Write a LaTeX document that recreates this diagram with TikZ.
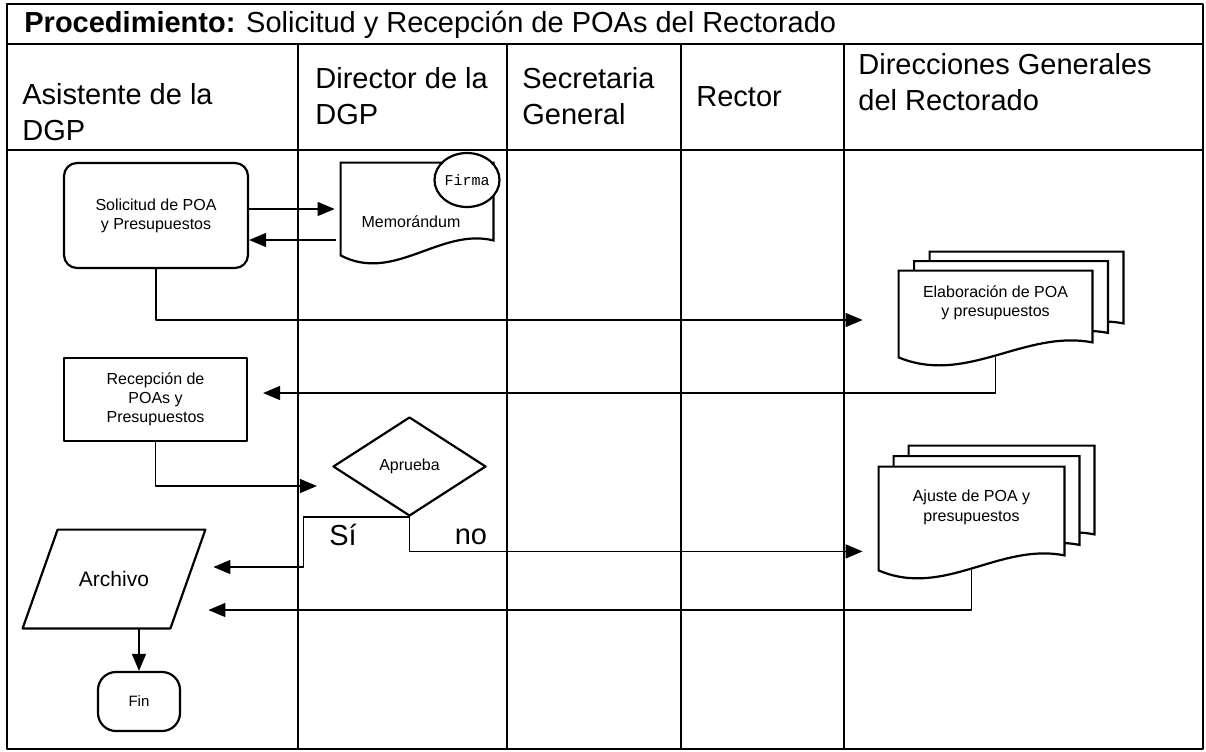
\documentclass[tikz,border=0pt]{standalone}
\usepackage{fontspec}
\setmainfont{Liberation Sans}
\newfontfamily\monofirma{Liberation Mono}
\usetikzlibrary{shapes.geometric,arrows.meta,calc,backgrounds}

\newcommand{\docoutline}[2][0,0]{%
  \draw[docline] ($(#2.south west)+(#1)$) -- ($(#2.north west)+(#1)$)
    -- ($(#2.north east)+(#1)$) -- ($(#2.south east)+(#1)+(0,-15)$)
    .. controls ($(#2.south west)!0.65!(#2.south east)+(#1)+(0,-28)$)
    and ($(#2.south west)!0.35!(#2.south east)+(#1)+(0,28)$)
    .. ($(#2.south west)+(#1)$) -- cycle;}

\begin{document}
\begin{tikzpicture}
[x=0.5pt, y=-0.5pt, line join=round,
lane/.style={line width=0.8pt},
head/.style={anchor=north west, inner sep=0pt, align=left, font=\fontsize{14.5}{18.25}\selectfont},
task/.style={draw, line width=1.1pt, inner sep=0pt, align=center, font=\fontsize{8}{9.5}\selectfont},
docu/.style={inner sep=0pt, align=center, font=\fontsize{8}{9.8}\selectfont},
docline/.style={line width=1.1pt, fill=white},
flow/.style={line width=0.7pt, -{Triangle[length=8.5pt,width=7pt]}},
answer/.style={inner sep=0pt, font=\fontsize{14.5}{17}\selectfont}]
\useasboundingbox (0,0) rectangle (1206,751);

\draw[lane] (7,4) rectangle (1203,749);
\draw[lane] (7,44) -- (1203,44);
\draw[lane] (7,150) -- (1203,150);
\foreach \x in {298,507,681,844}
  \draw[lane] (\x,44) -- (\x,749);

\node[anchor=base west, inner sep=0pt, font=\fontsize{14.5}{17}\selectfont] (title) at (24,32) {\textbf{Procedimiento:} Solicitud y Recepción de POAs del Rectorado};
\node[head] (asist) at (22,83) {Asistente de la\\DGP};
\node[head] (direc) at (315,67) {Director de la\\DGP};
\node[head] (secre) at (522,67) {Secretaria\\General};
\node[head] (rect) at (696,86) {Rector};
\node[head] (dirgen) at (858,53) {Direcciones Generales\\del Rectorado};

\node[task, rounded corners=6.5pt, minimum width=92pt, minimum height=52.5pt] (sol) at (156,215.5) {Solicitud de POA\\y Presupuestos};
\node[docu, text height=19pt, minimum width=76pt, minimum height=46pt] (memo) at (417,209) {\hspace*{-6pt}Memorándum};
\node[draw, ellipse, fill=white, line width=1.1pt, inner sep=0pt, minimum width=32.5pt, minimum height=27pt, font=\monofirma\fontsize{7.5}{9}\selectfont] (firma) at (467,180) {Firma};
\node[docu, text depth=13pt, minimum width=96.5pt, minimum height=43pt] (elab) at (995.5,314) {Elaboración de POA\\y presupuestos};
\node[task, minimum width=91.5pt, minimum height=41.5pt] (rec) at (155.5,399.5) {Recepción de\\POAs y\\Presupuestos};
\node[task, diamond, minimum width=76.5pt, minimum height=49.5pt] (apr) at (409.5,466.5) {Aprueba};
\node[docu, text depth=13pt, minimum width=92.5pt, minimum height=51.5pt] (ajus) at (971.5,518.5) {Ajuste de POA y\\presupuestos};
\node[inner sep=0pt, minimum width=91pt, minimum height=49pt, font=\fontsize{10.5}{12}\selectfont] (arch) at (114,579) {Archivo};
\node[task, rounded corners=9pt, minimum width=41pt, minimum height=29.5pt, font=\fontsize{7.5}{9}\selectfont] (fin) at (139,701.5) {Fin};
\node[answer] (si) at (343,535) {Sí};
\node[answer] (no) at (471,537) {no};

\begin{scope}[on background layer]
\docoutline{memo}
\docoutline[31,-19]{elab}
\docoutline[15.5,-9.5]{elab}
\docoutline{elab}
\docoutline[30,-21]{ajus}
\docoutline[15,-10.5]{ajus}
\docoutline{ajus}
\end{scope}
\draw[line width=1.1pt] (arch.south west) -- ($(arch.north west)+(35,0)$) -- (arch.north east) -- ($(arch.south east)+(-35,0)$) -- cycle;

\draw[flow, shorten >=3pt] (sol.east |- memo.west) -- (memo.west);
\draw[flow, shorten <=2.5pt] ([yshift=-15.5pt]memo.west) -- ([yshift=-15.5pt]memo.west -| sol.east);
\draw[flow, shorten >=18pt] (sol.south) |- ([yshift=-3pt]elab.west);
\draw[flow, shorten >=7.5pt] (elab.south) |- ([yshift=3.25pt]rec.east);
\draw[flow] (rec.south) |- ([xshift=-7.5pt,yshift=-9.75pt]apr.west);
\draw[flow, shorten >=4pt] (apr.south) -- ++(-106,0) |- ([yshift=6pt]arch.east);
\draw[flow, shorten >=8pt] (apr.south) |- ([yshift=9.5pt]ajus.south west);
\draw[flow, shorten >=1.5pt] (ajus.south) |- ([yshift=-15.5pt]arch.east);
\draw[flow] (fin.north |- arch.south) -- (fin.north);
\end{tikzpicture}
\end{document}
